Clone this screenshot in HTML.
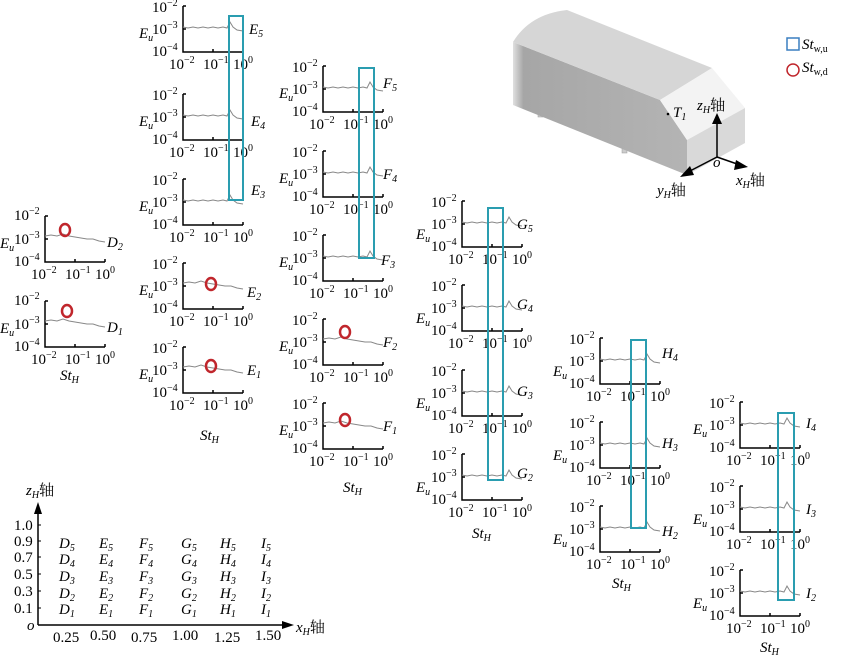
<!DOCTYPE html>
<html><head><meta charset="utf-8"><style>
html,body{margin:0;padding:0;background:#fff;}
svg{display:block;font-family:"Liberation Serif","Noto Serif CJK SC",serif;}
.t{font-size:15px;fill:#000}
.s{font-size:10px}
.i{font-style:italic}
</style></head><body>
<svg width="850" height="659" viewBox="0 0 850 659" xmlns="http://www.w3.org/2000/svg">
<defs>
<g id="ax">
<path d="M0,-46 V0 H60 M0,-46 h3 M0,-23 h3 M30,0 v-3 M60,0 v-3" stroke="#000" stroke-width="1.5" fill="none"/>
</g>
<path id="tr" d="M0,-25 L5,-24 L10,-25 L15,-24 L20,-25 L25,-24 L30,-25 L35,-24 L40,-25 L44,-24 L47,-30 L50,-25 L54,-22 L60,-21" stroke="#888" stroke-width="1" fill="none"/>
<path id="tr2" d="M0,-26 L6,-27 L12,-26 L18,-28 L24,-26 L30,-25 L36,-24 L42,-23 L48,-23 L54,-21 L60,-20" stroke="#888" stroke-width="1" fill="none"/>
</defs>

<!-- D panels -->
<g transform="translate(45,262)"><use href="#ax"/><use href="#tr2"/>
<text class="t" x="-31" y="-42">10<tspan class="s" dy="-6">−2</tspan></text>
<text class="t" x="-31" y="-18">10<tspan class="s" dy="-6">−3</tspan></text>
<text class="t" x="-31" y="4">10<tspan class="s" dy="-6">−4</tspan></text>
<text class="t i" x="-45" y="-14">E<tspan class="s" dy="3">u</tspan></text>
<text class="t" x="-14" y="17">10<tspan class="s" dy="-6">−2</tspan></text>
<text class="t" x="20" y="17">10<tspan class="s" dy="-6">−1</tspan></text>
<text class="t" x="50" y="17">10<tspan class="s" dy="-6">0</tspan></text>
<text class="t i" x="62" y="-15">D<tspan class="s" dy="3">2</tspan></text></g>
<g transform="translate(45,347)"><use href="#ax"/><use href="#tr2"/>
<text class="t" x="-31" y="-42">10<tspan class="s" dy="-6">−2</tspan></text>
<text class="t" x="-31" y="-18">10<tspan class="s" dy="-6">−3</tspan></text>
<text class="t" x="-31" y="4">10<tspan class="s" dy="-6">−4</tspan></text>
<text class="t i" x="-45" y="-14">E<tspan class="s" dy="3">u</tspan></text>
<text class="t" x="-14" y="17">10<tspan class="s" dy="-6">−2</tspan></text>
<text class="t" x="20" y="17">10<tspan class="s" dy="-6">−1</tspan></text>
<text class="t" x="50" y="17">10<tspan class="s" dy="-6">0</tspan></text>
<text class="t i" x="62" y="-15">D<tspan class="s" dy="3">1</tspan></text></g>
<text class="t i" x="60" y="380">St<tspan class="s" dy="3">H</tspan></text>

<!-- E panels -->
<g transform="translate(183,52)"><use href="#ax"/><use href="#tr"/>
<text class="t" x="-31" y="-40">10<tspan class="s" dy="-6">−2</tspan></text>
<text class="t" x="-31" y="-18">10<tspan class="s" dy="-6">−3</tspan></text>
<text class="t" x="-31" y="4">10<tspan class="s" dy="-6">−4</tspan></text>
<text class="t i" x="-44" y="-14">E<tspan class="s" dy="3">u</tspan></text>
<text class="t" x="-14" y="17">10<tspan class="s" dy="-6">−2</tspan></text>
<text class="t" x="20" y="17">10<tspan class="s" dy="-6">−1</tspan></text>
<text class="t" x="50" y="17">10<tspan class="s" dy="-6">0</tspan></text>
<text class="t i" x="66" y="-18">E<tspan class="s" dy="3">5</tspan></text></g>
<g transform="translate(183,140)"><use href="#ax"/><use href="#tr"/>
<text class="t" x="-31" y="-40">10<tspan class="s" dy="-6">−2</tspan></text>
<text class="t" x="-31" y="-18">10<tspan class="s" dy="-6">−3</tspan></text>
<text class="t" x="-31" y="4">10<tspan class="s" dy="-6">−4</tspan></text>
<text class="t i" x="-44" y="-14">E<tspan class="s" dy="3">u</tspan></text>
<text class="t" x="-14" y="17">10<tspan class="s" dy="-6">−2</tspan></text>
<text class="t" x="20" y="17">10<tspan class="s" dy="-6">−1</tspan></text>
<text class="t" x="50" y="17">10<tspan class="s" dy="-6">0</tspan></text>
<text class="t i" x="68" y="-14">E<tspan class="s" dy="3">4</tspan></text></g>
<g transform="translate(183,225)"><use href="#ax"/><use href="#tr"/>
<text class="t" x="-31" y="-40">10<tspan class="s" dy="-6">−2</tspan></text>
<text class="t" x="-31" y="-18">10<tspan class="s" dy="-6">−3</tspan></text>
<text class="t" x="-31" y="4">10<tspan class="s" dy="-6">−4</tspan></text>
<text class="t i" x="-44" y="-14">E<tspan class="s" dy="3">u</tspan></text>
<text class="t" x="-14" y="17">10<tspan class="s" dy="-6">−2</tspan></text>
<text class="t" x="20" y="17">10<tspan class="s" dy="-6">−1</tspan></text>
<text class="t" x="50" y="17">10<tspan class="s" dy="-6">0</tspan></text>
<text class="t i" x="68" y="-30">E<tspan class="s" dy="3">3</tspan></text></g>
<g transform="translate(183,309)"><use href="#ax"/><use href="#tr2"/>
<text class="t" x="-31" y="-40">10<tspan class="s" dy="-6">−2</tspan></text>
<text class="t" x="-31" y="-18">10<tspan class="s" dy="-6">−3</tspan></text>
<text class="t" x="-31" y="4">10<tspan class="s" dy="-6">−4</tspan></text>
<text class="t i" x="-44" y="-14">E<tspan class="s" dy="3">u</tspan></text>
<text class="t" x="-14" y="17">10<tspan class="s" dy="-6">−2</tspan></text>
<text class="t" x="20" y="17">10<tspan class="s" dy="-6">−1</tspan></text>
<text class="t" x="50" y="17">10<tspan class="s" dy="-6">0</tspan></text>
<text class="t i" x="64" y="-12">E<tspan class="s" dy="3">2</tspan></text></g>
<g transform="translate(183,393)"><use href="#ax"/><use href="#tr2"/>
<text class="t" x="-31" y="-40">10<tspan class="s" dy="-6">−2</tspan></text>
<text class="t" x="-31" y="-18">10<tspan class="s" dy="-6">−3</tspan></text>
<text class="t" x="-31" y="4">10<tspan class="s" dy="-6">−4</tspan></text>
<text class="t i" x="-44" y="-14">E<tspan class="s" dy="3">u</tspan></text>
<text class="t" x="-14" y="17">10<tspan class="s" dy="-6">−2</tspan></text>
<text class="t" x="20" y="17">10<tspan class="s" dy="-6">−1</tspan></text>
<text class="t" x="50" y="17">10<tspan class="s" dy="-6">0</tspan></text>
<text class="t i" x="64" y="-18">E<tspan class="s" dy="3">1</tspan></text></g>
<text class="t i" x="200" y="440">St<tspan class="s" dy="3">H</tspan></text>

<!-- F panels -->
<g transform="translate(323,112)"><use href="#ax"/><use href="#tr"/>
<text class="t" x="-31" y="-40">10<tspan class="s" dy="-6">−2</tspan></text>
<text class="t" x="-31" y="-18">10<tspan class="s" dy="-6">−3</tspan></text>
<text class="t" x="-31" y="4">10<tspan class="s" dy="-6">−4</tspan></text>
<text class="t i" x="-44" y="-14">E<tspan class="s" dy="3">u</tspan></text>
<text class="t" x="-14" y="17">10<tspan class="s" dy="-6">−2</tspan></text>
<text class="t" x="20" y="17">10<tspan class="s" dy="-6">−1</tspan></text>
<text class="t" x="50" y="17">10<tspan class="s" dy="-6">0</tspan></text>
<text class="t i" x="60" y="-24">F<tspan class="s" dy="3">5</tspan></text></g>
<g transform="translate(323,197)"><use href="#ax"/><use href="#tr"/>
<text class="t" x="-31" y="-40">10<tspan class="s" dy="-6">−2</tspan></text>
<text class="t" x="-31" y="-18">10<tspan class="s" dy="-6">−3</tspan></text>
<text class="t" x="-31" y="4">10<tspan class="s" dy="-6">−4</tspan></text>
<text class="t i" x="-44" y="-14">E<tspan class="s" dy="3">u</tspan></text>
<text class="t" x="-14" y="17">10<tspan class="s" dy="-6">−2</tspan></text>
<text class="t" x="20" y="17">10<tspan class="s" dy="-6">−1</tspan></text>
<text class="t" x="50" y="17">10<tspan class="s" dy="-6">0</tspan></text>
<text class="t i" x="60" y="-18">F<tspan class="s" dy="3">4</tspan></text></g>
<g transform="translate(323,281)"><use href="#ax"/><use href="#tr"/>
<text class="t" x="-31" y="-40">10<tspan class="s" dy="-6">−2</tspan></text>
<text class="t" x="-31" y="-18">10<tspan class="s" dy="-6">−3</tspan></text>
<text class="t" x="-31" y="4">10<tspan class="s" dy="-6">−4</tspan></text>
<text class="t i" x="-44" y="-14">E<tspan class="s" dy="3">u</tspan></text>
<text class="t" x="-14" y="17">10<tspan class="s" dy="-6">−2</tspan></text>
<text class="t" x="20" y="17">10<tspan class="s" dy="-6">−1</tspan></text>
<text class="t" x="50" y="17">10<tspan class="s" dy="-6">0</tspan></text>
<text class="t i" x="58" y="-16">F<tspan class="s" dy="3">3</tspan></text></g>
<g transform="translate(323,365)"><use href="#ax"/><use href="#tr2"/>
<text class="t" x="-31" y="-40">10<tspan class="s" dy="-6">−2</tspan></text>
<text class="t" x="-31" y="-18">10<tspan class="s" dy="-6">−3</tspan></text>
<text class="t" x="-31" y="4">10<tspan class="s" dy="-6">−4</tspan></text>
<text class="t i" x="-44" y="-14">E<tspan class="s" dy="3">u</tspan></text>
<text class="t" x="-14" y="17">10<tspan class="s" dy="-6">−2</tspan></text>
<text class="t" x="20" y="17">10<tspan class="s" dy="-6">−1</tspan></text>
<text class="t" x="50" y="17">10<tspan class="s" dy="-6">0</tspan></text>
<text class="t i" x="60" y="-18">F<tspan class="s" dy="3">2</tspan></text></g>
<g transform="translate(323,449)"><use href="#ax"/><use href="#tr2"/>
<text class="t" x="-31" y="-40">10<tspan class="s" dy="-6">−2</tspan></text>
<text class="t" x="-31" y="-18">10<tspan class="s" dy="-6">−3</tspan></text>
<text class="t" x="-31" y="4">10<tspan class="s" dy="-6">−4</tspan></text>
<text class="t i" x="-44" y="-14">E<tspan class="s" dy="3">u</tspan></text>
<text class="t" x="-14" y="17">10<tspan class="s" dy="-6">−2</tspan></text>
<text class="t" x="20" y="17">10<tspan class="s" dy="-6">−1</tspan></text>
<text class="t" x="50" y="17">10<tspan class="s" dy="-6">0</tspan></text>
<text class="t i" x="60" y="-18">F<tspan class="s" dy="3">1</tspan></text></g>
<text class="t i" x="343" y="492">St<tspan class="s" dy="3">H</tspan></text>

<!-- G panels -->
<g transform="translate(462,247)"><use href="#ax"/><use href="#tr"/>
<text class="t" x="-31" y="-40">10<tspan class="s" dy="-6">−2</tspan></text>
<text class="t" x="-31" y="-18">10<tspan class="s" dy="-6">−3</tspan></text>
<text class="t" x="-31" y="4">10<tspan class="s" dy="-6">−4</tspan></text>
<text class="t i" x="-46" y="-8">E<tspan class="s" dy="3">u</tspan></text>
<text class="t" x="-14" y="17">10<tspan class="s" dy="-6">−2</tspan></text>
<text class="t" x="20" y="17">10<tspan class="s" dy="-6">−1</tspan></text>
<text class="t" x="50" y="17">10<tspan class="s" dy="-6">0</tspan></text>
<text class="t i" x="55" y="-18">G<tspan class="s" dy="3">5</tspan></text></g>
<g transform="translate(462,331)"><use href="#ax"/><use href="#tr"/>
<text class="t" x="-31" y="-40">10<tspan class="s" dy="-6">−2</tspan></text>
<text class="t" x="-31" y="-18">10<tspan class="s" dy="-6">−3</tspan></text>
<text class="t" x="-31" y="4">10<tspan class="s" dy="-6">−4</tspan></text>
<text class="t i" x="-46" y="-8">E<tspan class="s" dy="3">u</tspan></text>
<text class="t" x="-14" y="17">10<tspan class="s" dy="-6">−2</tspan></text>
<text class="t" x="20" y="17">10<tspan class="s" dy="-6">−1</tspan></text>
<text class="t" x="50" y="17">10<tspan class="s" dy="-6">0</tspan></text>
<text class="t i" x="55" y="-22">G<tspan class="s" dy="3">4</tspan></text></g>
<g transform="translate(462,416)"><use href="#ax"/><use href="#tr"/>
<text class="t" x="-31" y="-40">10<tspan class="s" dy="-6">−2</tspan></text>
<text class="t" x="-31" y="-18">10<tspan class="s" dy="-6">−3</tspan></text>
<text class="t" x="-31" y="4">10<tspan class="s" dy="-6">−4</tspan></text>
<text class="t i" x="-46" y="-8">E<tspan class="s" dy="3">u</tspan></text>
<text class="t" x="-14" y="17">10<tspan class="s" dy="-6">−2</tspan></text>
<text class="t" x="20" y="17">10<tspan class="s" dy="-6">−1</tspan></text>
<text class="t" x="50" y="17">10<tspan class="s" dy="-6">0</tspan></text>
<text class="t i" x="55" y="-20">G<tspan class="s" dy="3">3</tspan></text></g>
<g transform="translate(462,500)"><use href="#ax"/><use href="#tr"/>
<text class="t" x="-31" y="-40">10<tspan class="s" dy="-6">−2</tspan></text>
<text class="t" x="-31" y="-18">10<tspan class="s" dy="-6">−3</tspan></text>
<text class="t" x="-31" y="4">10<tspan class="s" dy="-6">−4</tspan></text>
<text class="t i" x="-46" y="-8">E<tspan class="s" dy="3">u</tspan></text>
<text class="t" x="-14" y="17">10<tspan class="s" dy="-6">−2</tspan></text>
<text class="t" x="20" y="17">10<tspan class="s" dy="-6">−1</tspan></text>
<text class="t" x="50" y="17">10<tspan class="s" dy="-6">0</tspan></text>
<text class="t i" x="55" y="-22">G<tspan class="s" dy="3">2</tspan></text></g>
<text class="t i" x="472" y="538">St<tspan class="s" dy="3">H</tspan></text>

<!-- H panels -->
<g transform="translate(600,384)"><use href="#ax"/><use href="#tr"/>
<text class="t" x="-31" y="-40">10<tspan class="s" dy="-6">−2</tspan></text>
<text class="t" x="-31" y="-18">10<tspan class="s" dy="-6">−3</tspan></text>
<text class="t" x="-31" y="4">10<tspan class="s" dy="-6">−4</tspan></text>
<text class="t i" x="-47" y="-8">E<tspan class="s" dy="3">u</tspan></text>
<text class="t" x="-14" y="17">10<tspan class="s" dy="-6">−2</tspan></text>
<text class="t" x="20" y="17">10<tspan class="s" dy="-6">−1</tspan></text>
<text class="t" x="50" y="17">10<tspan class="s" dy="-6">0</tspan></text>
<text class="t i" x="62" y="-26">H<tspan class="s" dy="3">4</tspan></text></g>
<g transform="translate(600,468)"><use href="#ax"/><use href="#tr"/>
<text class="t" x="-31" y="-40">10<tspan class="s" dy="-6">−2</tspan></text>
<text class="t" x="-31" y="-18">10<tspan class="s" dy="-6">−3</tspan></text>
<text class="t" x="-31" y="4">10<tspan class="s" dy="-6">−4</tspan></text>
<text class="t i" x="-47" y="-8">E<tspan class="s" dy="3">u</tspan></text>
<text class="t" x="-14" y="17">10<tspan class="s" dy="-6">−2</tspan></text>
<text class="t" x="20" y="17">10<tspan class="s" dy="-6">−1</tspan></text>
<text class="t" x="50" y="17">10<tspan class="s" dy="-6">0</tspan></text>
<text class="t i" x="62" y="-20">H<tspan class="s" dy="3">3</tspan></text></g>
<g transform="translate(600,552)"><use href="#ax"/><use href="#tr"/>
<text class="t" x="-31" y="-40">10<tspan class="s" dy="-6">−2</tspan></text>
<text class="t" x="-31" y="-18">10<tspan class="s" dy="-6">−3</tspan></text>
<text class="t" x="-31" y="4">10<tspan class="s" dy="-6">−4</tspan></text>
<text class="t i" x="-47" y="-8">E<tspan class="s" dy="3">u</tspan></text>
<text class="t" x="-14" y="17">10<tspan class="s" dy="-6">−2</tspan></text>
<text class="t" x="20" y="17">10<tspan class="s" dy="-6">−1</tspan></text>
<text class="t" x="50" y="17">10<tspan class="s" dy="-6">0</tspan></text>
<text class="t i" x="62" y="-16">H<tspan class="s" dy="3">2</tspan></text></g>
<text class="t i" x="612" y="588">St<tspan class="s" dy="3">H</tspan></text>

<!-- I panels -->
<g transform="translate(740,448)"><use href="#ax"/><use href="#tr"/>
<text class="t" x="-31" y="-40">10<tspan class="s" dy="-6">−2</tspan></text>
<text class="t" x="-31" y="-18">10<tspan class="s" dy="-6">−3</tspan></text>
<text class="t" x="-31" y="4">10<tspan class="s" dy="-6">−4</tspan></text>
<text class="t i" x="-47" y="-14">E<tspan class="s" dy="3">u</tspan></text>
<text class="t" x="-14" y="17">10<tspan class="s" dy="-6">−2</tspan></text>
<text class="t" x="20" y="17">10<tspan class="s" dy="-6">−1</tspan></text>
<text class="t" x="50" y="17">10<tspan class="s" dy="-6">0</tspan></text>
<text class="t i" x="66" y="-20">I<tspan class="s" dy="3">4</tspan></text></g>
<g transform="translate(740,532)"><use href="#ax"/><use href="#tr"/>
<text class="t" x="-31" y="-40">10<tspan class="s" dy="-6">−2</tspan></text>
<text class="t" x="-31" y="-18">10<tspan class="s" dy="-6">−3</tspan></text>
<text class="t" x="-31" y="4">10<tspan class="s" dy="-6">−4</tspan></text>
<text class="t i" x="-47" y="-8">E<tspan class="s" dy="3">u</tspan></text>
<text class="t" x="-14" y="17">10<tspan class="s" dy="-6">−2</tspan></text>
<text class="t" x="20" y="17">10<tspan class="s" dy="-6">−1</tspan></text>
<text class="t" x="50" y="17">10<tspan class="s" dy="-6">0</tspan></text>
<text class="t i" x="66" y="-18">I<tspan class="s" dy="3">3</tspan></text></g>
<g transform="translate(740,616)"><use href="#ax"/><use href="#tr"/>
<text class="t" x="-31" y="-40">10<tspan class="s" dy="-6">−2</tspan></text>
<text class="t" x="-31" y="-18">10<tspan class="s" dy="-6">−3</tspan></text>
<text class="t" x="-31" y="4">10<tspan class="s" dy="-6">−4</tspan></text>
<text class="t i" x="-47" y="-8">E<tspan class="s" dy="3">u</tspan></text>
<text class="t" x="-14" y="17">10<tspan class="s" dy="-6">−2</tspan></text>
<text class="t" x="20" y="17">10<tspan class="s" dy="-6">−1</tspan></text>
<text class="t" x="50" y="17">10<tspan class="s" dy="-6">0</tspan></text>
<text class="t i" x="66" y="-18">I<tspan class="s" dy="3">2</tspan></text></g>
<text class="t i" x="760" y="652">St<tspan class="s" dy="3">H</tspan></text>

<!-- blue rectangles -->
<g fill="none" stroke="#2a9db0" stroke-width="2">
<rect x="229" y="16" width="14" height="184"/>
<rect x="359" y="68" width="15" height="190"/>
<rect x="488" y="208" width="15" height="272"/>
<rect x="631" y="340" width="15" height="188"/>
<rect x="778" y="413" width="16" height="187"/>
</g>
<!-- red circles -->
<g fill="none" stroke="#c0262c" stroke-width="2.5">
<ellipse cx="65" cy="230" rx="5" ry="6"/>
<ellipse cx="67" cy="311" rx="5" ry="6"/>
<ellipse cx="211" cy="284" rx="5" ry="6"/>
<ellipse cx="211" cy="366" rx="5" ry="6"/>
<ellipse cx="345" cy="332" rx="5" ry="6"/>
<ellipse cx="345" cy="420" rx="5" ry="6"/>
</g>

<!-- 3D box -->
<defs>
<linearGradient id="sg" x1="0" y1="0" x2="1" y2="0"><stop offset="0" stop-color="#e0e0e0"/><stop offset="0.06" stop-color="#a6a6a6"/><stop offset="1" stop-color="#b4b4b4"/></linearGradient>
</defs>
<rect x="538" y="103" width="5" height="14" fill="#ccc" stroke="#999" stroke-width="0.5"/>
<rect x="622" y="138" width="5" height="15" fill="#ccc" stroke="#999" stroke-width="0.5"/>
<path d="M513,42 L660,100 L687,140 L687,175 L513,105 Z" fill="url(#sg)"/>
<path d="M513,42 Q530,14 567,10 L712,68 L660,100 Z" fill="#d6d6d6"/>
<path d="M660,100 L712,68 L745,108 L687,140 Z" fill="#f3f3f3"/>
<path d="M687,140 L745,108 L745,143 L687,175 Z" fill="#d9d9d9"/>
<circle cx="668" cy="114" r="1.3" fill="#000"/>
<text class="t i" x="673" y="117">T<tspan class="s" dy="3">1</tspan></text>
<path d="M717,157 V122" stroke="#000" stroke-width="1.5"/><path d="M712,124 L717,113 L722,124 Z"/>
<path d="M717,157 L740,165" stroke="#000" stroke-width="1.5"/><path d="M736,160 L748,167 L734,170 Z"/>
<path d="M717,157 L688,172" stroke="#000" stroke-width="1.5"/><path d="M690,166 L680,177 L694,175 Z"/>
<text class="t i" x="697" y="110">z<tspan class="s" dy="3">H</tspan><tspan dy="-3" font-style="normal">轴</tspan></text>
<text class="t i" x="713" y="167" font-size="11">o</text>
<text class="t i" x="736" y="185">x<tspan class="s" dy="3">H</tspan><tspan dy="-3" font-style="normal">轴</tspan></text>
<text class="t i" x="657" y="195">y<tspan class="s" dy="3">H</tspan><tspan dy="-3" font-style="normal">轴</tspan></text>
<!-- legend -->
<rect x="787" y="38" width="12" height="12" fill="none" stroke="#3a7fc0" stroke-width="1.5"/>
<text class="t i" x="802" y="49">St<tspan class="s" dy="3" font-style="normal">w,u</tspan></text>
<circle cx="793" cy="70" r="6" fill="none" stroke="#c0262c" stroke-width="1.5"/>
<text class="t i" x="802" y="72">St<tspan class="s" dy="3" font-style="normal">w,d</tspan></text>

<!-- bottom-left grid -->
<path d="M38,625 V510" stroke="#000" stroke-width="1.5"/><path d="M34,514 L38,502 L42,514 Z"/>
<path d="M38,625 H285" stroke="#000" stroke-width="1.5"/><path d="M282,621 L294,625 L282,629 Z"/>
<g stroke="#000" stroke-width="1"><path d="M38,525 h3 M38,541 h3 M38,557 h3 M38,574 h3 M38,591 h3 M38,608 h3"/></g>
<text class="t i" x="26" y="495">z<tspan class="s" dy="3">H</tspan><tspan dy="-3" font-style="normal">轴</tspan></text>
<g class="t">
<text x="14" y="530">1.0</text><text x="14" y="546">0.9</text><text x="14" y="562">0.7</text><text x="14" y="579">0.5</text><text x="14" y="596">0.3</text><text x="14" y="613">0.1</text>
</g>
<text class="t i" x="27" y="630" font-size="12">o</text>
<text class="t i" x="296" y="632">x<tspan class="s" dy="3">H</tspan><tspan dy="-3" font-style="normal">轴</tspan></text>
<g class="t">
<text x="53" y="642">0.25</text><text x="90" y="640">0.50</text><text x="131" y="642">0.75</text><text x="172" y="640">1.00</text><text x="214" y="642">1.25</text><text x="255" y="640">1.50</text>
</g>
<g class="t i">
<text x="59" y="548">D<tspan class="s" dy="3">5</tspan></text><text x="99" y="548">E<tspan class="s" dy="3">5</tspan></text><text x="139" y="548">F<tspan class="s" dy="3">5</tspan></text><text x="181" y="548">G<tspan class="s" dy="3">5</tspan></text><text x="220" y="548">H<tspan class="s" dy="3">5</tspan></text><text x="261" y="548">I<tspan class="s" dy="3">5</tspan></text>
<text x="59" y="564">D<tspan class="s" dy="3">4</tspan></text><text x="99" y="564">E<tspan class="s" dy="3">4</tspan></text><text x="139" y="564">F<tspan class="s" dy="3">4</tspan></text><text x="181" y="564">G<tspan class="s" dy="3">4</tspan></text><text x="220" y="564">H<tspan class="s" dy="3">4</tspan></text><text x="261" y="564">I<tspan class="s" dy="3">4</tspan></text>
<text x="59" y="581">D<tspan class="s" dy="3">3</tspan></text><text x="99" y="581">E<tspan class="s" dy="3">3</tspan></text><text x="139" y="581">F<tspan class="s" dy="3">3</tspan></text><text x="181" y="581">G<tspan class="s" dy="3">3</tspan></text><text x="220" y="581">H<tspan class="s" dy="3">3</tspan></text><text x="261" y="581">I<tspan class="s" dy="3">3</tspan></text>
<text x="59" y="598">D<tspan class="s" dy="3">2</tspan></text><text x="99" y="598">E<tspan class="s" dy="3">2</tspan></text><text x="139" y="598">F<tspan class="s" dy="3">2</tspan></text><text x="181" y="598">G<tspan class="s" dy="3">2</tspan></text><text x="220" y="598">H<tspan class="s" dy="3">2</tspan></text><text x="261" y="598">I<tspan class="s" dy="3">2</tspan></text>
<text x="59" y="614">D<tspan class="s" dy="3">1</tspan></text><text x="99" y="614">E<tspan class="s" dy="3">1</tspan></text><text x="139" y="614">F<tspan class="s" dy="3">1</tspan></text><text x="181" y="614">G<tspan class="s" dy="3">1</tspan></text><text x="220" y="614">H<tspan class="s" dy="3">1</tspan></text><text x="261" y="614">I<tspan class="s" dy="3">1</tspan></text>
</g>
</svg>
</body></html>
